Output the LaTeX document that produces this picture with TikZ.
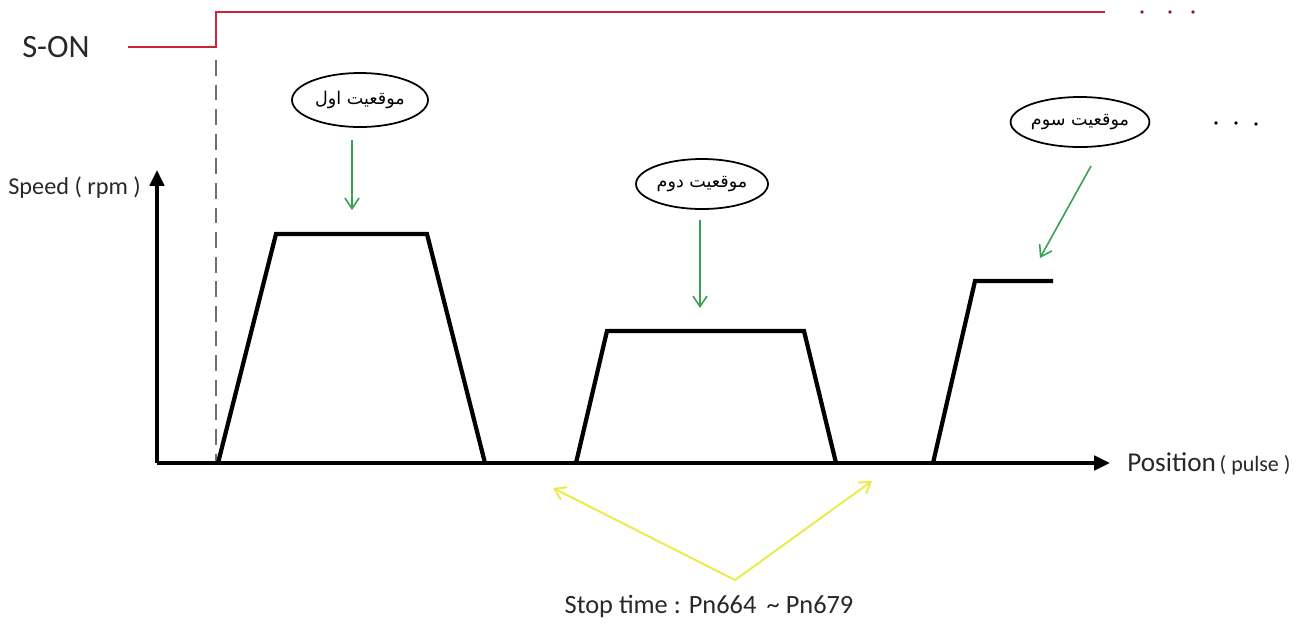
\documentclass[tikz,border=0pt]{standalone}
\usepackage{fontspec}
\setmainfont{Carlito}
\newfontfamily\arabicfont[Script=Arabic]{DejaVu Sans}
\TeXXeTstate=1
\usetikzlibrary{shapes.geometric,arrows.meta}
\newdimen\pxu
\pxu=0.02cm
\definecolor{sigred}{RGB}{205,35,55}
\definecolor{grn}{RGB}{55,160,85}
\definecolor{yel}{RGB}{235,235,70}
\definecolor{dashgray}{RGB}{110,110,110}
\definecolor{txt}{RGB}{40,40,40}
\tikzset{
  axis/.style={line width=2.4pt,-{Triangle[length=9pt,width=8pt]}},
  profile/.style={line width=2.4pt,line join=miter},
  bubble/.style={ellipse,draw,line width=1pt,minimum width=136\pxu,minimum height=54\pxu,inner sep=0pt,font=\arabicfont\fontsize{10}{11}\selectfont},
  garrow/.style={grn,line width=0.9pt,-{Straight Barb[length=6pt,width=8pt]}},
  yarrow/.style={yel,line width=1.1pt,-{Straight Barb[length=6pt,width=8pt]}},
  lbl/.style={inner sep=0pt,anchor=west,text=txt},
  dots/.style={circle,fill=black,inner sep=0pt,minimum size=2.2pt},
  rdots/.style={circle,fill=sigred!70!black,inner sep=0pt,minimum size=2.2pt},
}
\begin{document}
\begin{tikzpicture}[x=0.02cm,y=-0.02cm]
\useasboundingbox (0,0) rectangle (1299,633);
% S-ON signal
\node[lbl,font=\fontsize{18.5}{20}\selectfont] (son) at (22,47) {S-ON};
\coordinate (s0) at (128,47);
\coordinate (s1) at (216,47);
\coordinate (s2) at (216,12);
\coordinate (s3) at (1105,12);
\draw[sigred,line width=1pt] (s0) -- (s1) -- (s2) -- (s3);
\node[rdots] (rd1) at (1142,12) {};
\node[rdots] (rd2) at (1170,12) {};
\node[rdots] (rd3) at (1193,12) {};
% dashed line
\coordinate (d0) at (216,60);
\coordinate (d1) at (216,463);
\draw[dashgray,line width=1.2pt,dash pattern=on 9pt off 5pt] (d0) -- (d1);
% axes
\coordinate (o) at (157,463);
\coordinate (ytop) at (157,170);
\coordinate (xend) at (1110,463);
\draw[axis] (o) -- (ytop);
\draw[axis] (o) -- (xend);
\node[lbl,font=\fontsize{13.8}{15}\selectfont] (ylab) at (8,188) {Speed ( rpm )};
\node[lbl,font=\fontsize{15.5}{17}\selectfont] (xlab) at (1127,464) {Position{\fontsize{12.5}{14}\selectfont\,( pulse )}};
% profiles
\coordinate (a0) at (218,463); \coordinate (a1) at (276,234);
\coordinate (a2) at (427,234); \coordinate (a3) at (485,463);
\draw[profile] (a0) -- (a1) -- (a2) -- (a3);
\coordinate (b0) at (576,463); \coordinate (b1) at (607,331);
\coordinate (b2) at (804,331); \coordinate (b3) at (836,463);
\draw[profile] (b0) -- (b1) -- (b2) -- (b3);
\coordinate (c0) at (933,463); \coordinate (c1) at (975,281);
\coordinate (c2) at (1053,281);
\draw[profile] (c0) -- (c1) -- (c2);
% bubbles
\node[bubble] (e1) at (360,100) {\beginR موقعیت اول\endR};
\node[bubble,minimum width=132\pxu,minimum height=50\pxu] (e2) at (702,184) {\beginR موقعیت دوم\endR};
\node[bubble,minimum width=130\pxu,minimum height=50\pxu] (e3) at (1080,122) {\beginR موقعیت سوم\endR};
\node[dots] (bd1) at (1216,123) {};
\node[dots] (bd2) at (1236,123) {};
\node[dots] (bd3) at (1256,124) {};
% green arrows
\coordinate (g1a) at (352,140); \coordinate (g1b) at (352,210);
\coordinate (g2a) at (700,220); \coordinate (g2b) at (700,308);
\coordinate (g3a) at (1091,166); \coordinate (g3b) at (1040,258);
\draw[garrow] (g1a) -- (g1b);
\draw[garrow] (g2a) -- (g2b);
\draw[garrow] (g3a) -- (g3b);
% yellow arrows
\coordinate (yv) at (735,580);
\coordinate (yl) at (553,488);
\coordinate (yr) at (872,481);
\draw[yarrow] (yv) -- (yl);
\draw[yarrow] (yv) -- (yr);
\node[font=\fontsize{15}{17}\selectfont,inner sep=0pt,text=txt] (stop) at (709,607) {Stop time : Pn664 \,\textasciitilde\ Pn679};
\end{tikzpicture}
\end{document}
